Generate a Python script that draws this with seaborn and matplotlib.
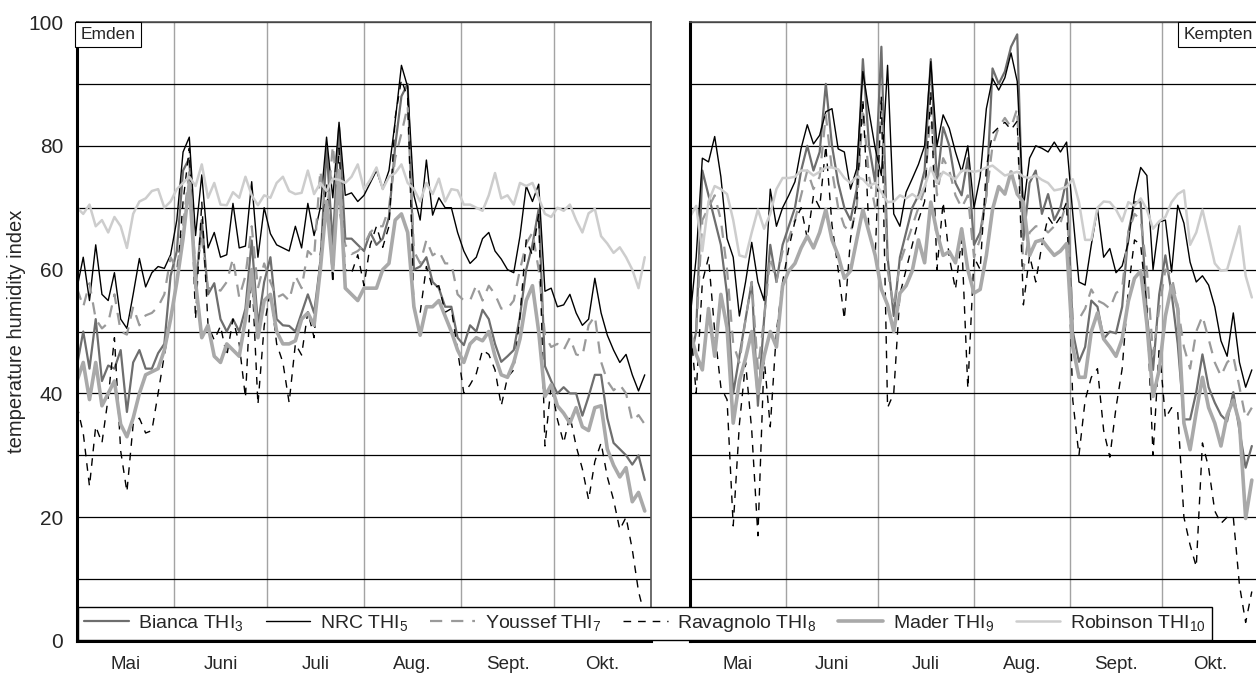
import numpy as np
import pandas as pd
import matplotlib
matplotlib.use("Agg")
import matplotlib.pyplot as plt
from matplotlib.lines import Line2D
import seaborn as sns

sns.set_style("white")
plt.rcParams["font.family"] = ["Liberation Sans", "DejaVu Sans"]
plt.rcParams["mathtext.fontset"] = "custom"
plt.rcParams["mathtext.rm"] = "Liberation Sans"
plt.rcParams["mathtext.it"] = "Liberation Sans:italic"
plt.rcParams["mathtext.bf"] = "Liberation Sans:bold"
plt.rcParams["mathtext.default"] = "regular"

# ---------------- data (day of season, every second day from 1 May) ----------------
days = list(range(0, 184, 2))
month_starts = [0, 31, 61, 92, 123, 153, 184]
month_labels = ["Mai", "Juni", "Juli", "Aug.", "Sept.", "Okt."]
series_names = ["Bianca", "NRC", "Youssef", "Ravagnolo", "Mader", "Robinson"]
legend_labels = ["Bianca THI$_3$", "NRC THI$_5$", "Youssef THI$_7$",
                 "Ravagnolo THI$_8$", "Mader THI$_9$", "Robinson THI$_{10}$"]

emden_nrc = [57, 62, 55, 64, 56, 55, 59.5, 52, 50.5, 56,
             61.8, 57.2, 59.5, 60.5, 60.2, 62.4, 68, 79, 81.4, 65.5,
             75.3, 63.5, 66, 62, 62.4, 70.7, 63.5, 63.8, 74.2, 62,
             70, 65.8, 64, 63.5, 63, 67, 63.5, 70.7, 65.5, 70,
             81.4, 71.6, 83.8, 72, 72.4, 71, 72, 74, 76, 73,
             76, 84, 93, 89.5, 72, 68, 77.7, 68.8, 71.6, 70,
             70, 66, 63, 61, 62, 65, 66, 63, 61.7, 60,
             59.5, 65.4, 73.5, 71, 73.8, 56.5, 57, 54, 54.3, 56,
             53, 51, 52, 58.6, 53, 49.4, 47, 45, 46.3, 43,
             40.4, 43]
emden_bianca = [44.5, 50, 44, 52, 42, 44.5, 44, 47, 37, 45,
                47, 44, 44, 46.5, 48, 59, 63, 76, 78, 57,
                68, 56, 57.8, 52, 50, 52, 50, 53.7, 64.7, 51,
                58, 62, 52, 51, 50.9, 50, 53, 56, 53, 61,
                79.6, 64, 83, 65, 65, 64, 63, 66, 64, 65,
                68.5, 80, 88, 90, 60, 60.5, 62, 58, 57, 54,
                54, 49, 47.8, 51, 50, 53.5, 52, 48, 45.1, 46,
                47, 52.5, 60, 64, 69.8, 44.4, 42, 40, 41, 40,
                40, 36.4, 39.5, 43, 43, 36, 32, 31, 30, 28.5,
                30, 26]
emden_youssef = [57, 54, 57.8, 52, 50.5, 51.4, 56, 50, 49.5, 54,
                 51, 52.6, 53, 54, 56, 62, 60, 67, 76, 59.5,
                 65, 57, 57, 56.6, 58, 61.8, 55.5, 59, 67, 57,
                 61, 58, 55.5, 56, 55, 59, 57, 63, 62, 76,
                 68, 80, 70, 64, 62.5, 63, 64, 66, 67, 67,
                 70, 78, 82, 86.4, 63, 61, 64.8, 62.3, 63, 61,
                 61, 56, 55, 55, 57.5, 55, 57.4, 56, 53.7, 53.7,
                 55, 60, 64.2, 66, 60, 49.4, 47.5, 48, 47, 49,
                 46.3, 46, 51, 52.5, 45.1, 42, 40.5, 41.4, 40, 35.5,
                 36.5, 35]
emden_ravagnolo = [38, 33.6, 25, 34.7, 32, 39.3, 49, 30.7, 24.1, 35,
                   36, 33.6, 34, 40, 46.2, 52, 58, 71, 79.6, 52,
                   71, 51, 48.6, 50.9, 46, 52, 48, 39.3, 60, 38.2,
                   50.9, 56.6, 48, 45, 38.5, 48, 46.2, 53.2, 49, 62.4,
                   73.9, 57.8, 79.6, 60, 59.4, 62.4, 57.4, 64, 67, 63.6,
                   67, 84.6, 90.7, 87.7, 53.7, 53, 60.5, 57, 57.4, 53.1,
                   53.7, 47, 40, 41.4, 43.2, 47, 46.3, 43.8, 38, 42.6,
                   43.8, 52.5, 64.8, 62.3, 69, 31.5, 41.4, 35.8, 32, 36.4,
                   31.5, 27.8, 22.8, 29, 32, 26.5, 22.8, 18, 20, 14.8,
                   8, 4]
emden_mader = [42, 45, 39, 45, 38, 40, 42, 35, 33, 36,
               40, 43, 43.5, 44, 47, 52, 58, 65, 74, 58,
               49, 51, 46, 45, 48, 47, 46, 52, 60, 49,
               55, 56, 50, 48, 48, 48.5, 52, 53, 51, 60,
               71, 60, 76, 57, 56, 55, 57, 57, 57, 60,
               61, 68, 69, 66, 54, 49.4, 54, 54, 55, 52.5,
               50, 47, 45, 48, 49, 48.5, 50, 46, 43, 42.6,
               45, 48.8, 55, 57.4, 50, 39.5, 41.4, 38, 36.8, 35.2,
               37.7, 34.6, 34, 37.7, 38, 31, 28.4, 26.5, 28, 22.5,
               24, 21]
emden_robinson = [70, 69, 70.5, 67, 68, 66, 68.5, 67, 63.5, 69,
                  71, 71.5, 72.7, 73, 70, 71, 73, 74, 75, 73.5,
                  77, 71.6, 74, 70.5, 70.4, 72.5, 71.6, 75, 72, 70.4,
                  72, 71.6, 74, 75, 72.7, 72.2, 72.4, 76, 72.2, 74,
                  72.7, 74.7, 74.5, 74, 75, 77, 73, 74.5, 76.5, 73,
                  75, 75.6, 77, 74, 73, 71, 74, 72.2, 74.7, 71,
                  73, 72.8, 70.5, 70.5, 70, 69.5, 72, 75.6, 71.5, 72,
                  70.5, 74, 73.5, 74, 71.6, 69, 68.5, 70, 69.5, 70.5,
                  68, 66, 69.1, 69.8, 65.4, 64.2, 62.7, 63.6, 62, 60,
                  57, 62]

kempten_nrc = [52, 62, 78, 77.4, 81.5, 75, 65, 62, 52.5, 58,
               64.4, 58, 55, 73, 67, 70, 72, 74.2, 79.6, 83.4,
               80.3, 81.7, 85.5, 86, 79.5, 79, 73, 76.3, 92, 85.5,
               79.6, 75.2, 93, 69, 67, 72.5, 74.7, 77, 80, 93.6,
               80, 85, 82.8, 79, 75.8, 80, 70, 75, 86, 90.9,
               89, 91, 95, 90.4, 70, 78, 80, 79.6, 79, 80.6,
               79, 80.6, 69, 58, 57.5, 64, 69.8, 62, 63.4, 59.5,
               60.6, 64.4, 72, 76.5, 75.2, 60, 67.7, 68, 59.6, 70.4,
               67.5, 61.2, 58, 59, 57.5, 54, 48.5, 46, 53, 45,
               41, 43.8]
kempten_bianca = [45, 50, 76, 72, 68, 64, 56, 40, 46, 52,
                  58, 38, 52, 64, 58, 64, 67, 70, 76, 80,
                  76, 79, 90, 80, 74, 70, 68, 73, 94, 80,
                  74, 96, 62, 52.5, 62, 66, 70, 72, 76, 94,
                  74, 83, 80, 74, 72, 78, 64, 66, 72, 92.5,
                  90, 92, 96, 98, 64.8, 74, 76, 69, 72.2, 68,
                  70, 74.6, 50, 45.1, 47.5, 55, 54, 48.8, 50, 49.7,
                  54, 66, 70.9, 70.9, 52.5, 43.8, 56, 62.3, 56.2, 48,
                  35.8, 35.8, 40.2, 46.3, 41, 38.5, 36.5, 35.5, 40.2, 34,
                  28, 31.5]
kempten_youssef = [47, 50, 68, 70, 72, 68, 60, 48, 45, 52,
                   58, 44, 52, 62, 58, 63, 65, 68, 72, 76,
                   73, 75, 85, 76, 70, 67, 66, 70, 86, 75,
                   70, 88, 60, 54, 61, 64, 67, 70, 73, 86,
                   72, 78, 76, 72, 70, 72, 62, 65, 72, 80,
                   83, 84.5, 83, 86, 60, 66, 67, 67, 66, 67,
                   67.5, 70.9, 52, 52, 53.7, 56.8, 55, 54.5, 53.7, 56.2,
                   57, 66, 69, 68, 60, 46.3, 53.7, 60, 59, 54,
                   47.5, 44, 50, 52.5, 48.8, 45, 42.8, 45, 46, 41,
                   36, 37.7]
kempten_ravagnolo = [52, 40, 58, 62, 50, 41, 39, 18.6, 35, 45,
                     34, 17, 45.7, 34.6, 50, 58, 63.5, 67.8, 70, 65,
                     72, 70, 80, 67.2, 60, 52, 65, 70.9, 87.5, 66,
                     62.3, 88, 37.7, 40, 56, 60, 64, 68, 71, 88.8,
                     60, 70.9, 62, 56.8, 65, 40.8, 62, 60, 76.5, 82,
                     83, 83.8, 82.6, 84, 54.3, 62.3, 58, 64, 68.5, 67,
                     68.5, 70.9, 38.9, 30, 38.9, 42.6, 44, 34, 29.7, 37.7,
                     44, 56.8, 64.8, 64, 53.7, 30, 47.5, 36, 37.7, 37,
                     20, 15.5, 12, 32, 28, 21, 19, 20, 20, 9,
                     3, 8]
kempten_mader = [50, 46.3, 43.8, 53.7, 46, 56, 50.6, 35.2, 42, 45.7,
                 50, 40, 46, 50, 47.5, 57.4, 59.8, 61, 63.5, 65.4,
                 63.5, 66, 69.7, 64.8, 62.3, 58.6, 59.8, 64.8, 69.7, 66,
                 62.3, 56.8, 54.3, 50, 56.2, 57.4, 59.8, 64.8, 61.1, 70.9,
                 66, 62.3, 62.9, 61.1, 66.6, 60, 56.2, 56.8, 62.3, 69.7,
                 73.4, 72.2, 75.8, 72.2, 70.9, 62.3, 64.5, 64.8, 63.5, 62.3,
                 63, 64.2, 47.5, 42.6, 42.6, 50, 53, 48.8, 47.5, 46,
                 48.8, 54.9, 58.6, 59.8, 51.2, 39.5, 43.8, 52.5, 57.4, 53.7,
                 35.2, 30.9, 37, 42.6, 37.7, 35.2, 31.5, 36.5, 38.9, 35.2,
                 19.8, 26]
kempten_robinson = [68.5, 70.3, 63, 71, 73.5, 73, 72.2, 68, 62.3, 62,
                    66, 69.7, 66.6, 69, 73, 74.8, 74.8, 75, 76, 76,
                    75.2, 75.8, 76.5, 76.5, 76.2, 74.8, 74, 75, 74.6, 73.5,
                    74, 72.5, 70.9, 71, 72, 71.5, 72.2, 71.5, 73.4, 76.5,
                    74, 75.8, 75.2, 74.6, 76, 76, 75.8, 76, 76.5, 76.8,
                    76, 75.2, 75.5, 75.8, 75, 74.8, 75.2, 74.5, 74, 72.8,
                    73, 73.4, 74.6, 70.9, 64.8, 64.8, 70, 71, 70.9, 69.7,
                    67.8, 70.9, 70.3, 71.5, 69.7, 66.6, 67.8, 68.5, 70.9, 72.2,
                    72.8, 64, 66, 69.7, 65.4, 61, 59.8, 60, 63.5, 67,
                    59, 55.5]

# ---------------- styles ----------------
colors = {"Bianca": "#6e6e6e", "NRC": "#000000", "Youssef": "#9a9a9a",
          "Ravagnolo": "#000000", "Mader": "#a9a9a9", "Robinson": "#cdcdcd"}
widths = {"Bianca": 1.6, "NRC": 1.0, "Youssef": 1.6,
          "Ravagnolo": 1.0, "Mader": 2.6, "Robinson": 1.8}
dashes = {"Bianca": "", "NRC": "", "Youssef": (5.5, 4),
          "Ravagnolo": (5.5, 5), "Mader": "", "Robinson": ""}


def long_frame(values):
    frames = []
    for name, vals in zip(series_names, values):
        frames.append(pd.DataFrame({"day": days, "thi": vals, "series": name}))
    return pd.concat(frames, ignore_index=True)


emden_df = long_frame([emden_bianca, emden_nrc, emden_youssef,
                       emden_ravagnolo, emden_mader, emden_robinson])
kempten_df = long_frame([kempten_bianca, kempten_nrc, kempten_youssef,
                         kempten_ravagnolo, kempten_mader, kempten_robinson])

W, H = 1256, 675
fig = plt.figure(figsize=(W / 100, H / 100), dpi=100)
ax1 = fig.add_axes([77 / W, 34 / H, 574 / W, 619 / H])
ax2 = fig.add_axes([690 / W, 34 / H, 568 / W, 619 / H])

for ax, df in ((ax1, emden_df), (ax2, kempten_df)):
    sns.lineplot(data=df, x="day", y="thi", hue="series", style="series", size="series",
                 hue_order=series_names, style_order=series_names, size_order=series_names,
                 palette=colors, dashes=dashes, sizes=widths, estimator=None,
                 legend=False, ax=ax)
    ax.set_xlim(0, 184)
    ax.set_ylim(0, 100)
    ax.set_xlabel("")
    ax.set_ylabel("")
    ax.set_axisbelow(True)
    ax.set_yticks(range(0, 101, 10))
    ax.set_xticks(month_starts)
    ax.set_xticks([(a + b) / 2 for a, b in zip(month_starts[:-1], month_starts[1:])], minor=True)
    ax.set_xticklabels([""] * len(month_starts))
    ax.set_xticklabels(month_labels, minor=True, fontsize=13.5)
    ax.tick_params(axis="x", which="major", length=6, width=1.5, direction="out", color="black")
    ax.tick_params(axis="x", which="minor", length=0, pad=11)
    ax.tick_params(axis="y", which="major", length=7, width=1.5, direction="out",
                   color="black", labelsize=15, pad=3)
    ax.grid(axis="y", which="major", color="black", lw=0.9)
    ax.grid(axis="x", which="major", color="#a3a3a3", lw=1.0)
    for s in ("left", "bottom"):
        ax.spines[s].set_color("black")
        ax.spines[s].set_linewidth(2.2)
    for s in ("top", "right"):
        ax.spines[s].set_color("#555555")
        ax.spines[s].set_linewidth(1.2)

ax1.set_yticklabels([str(v) if v % 20 == 0 else "" for v in range(0, 101, 10)])
ax2.set_yticklabels([""] * 11)
ax1.set_ylabel("temperature humidity index", fontsize=14.5)
ax1.yaxis.set_label_coords(-0.088, 0.5)

box = dict(boxstyle="square,pad=0.3", fc="white", ec="black", lw=0.8)
ax1.text(0.006, 0.992, "Emden", transform=ax1.transAxes, ha="left", va="top",
         fontsize=12.5, bbox=box, zorder=10)
ax2.text(0.991, 0.992, "Kempten", transform=ax2.transAxes, ha="right", va="top",
         fontsize=12.5, bbox=box, zorder=10)

handles = [Line2D([], [], color=colors[n], lw=widths[n],
                  dashes=(dashes[n] if dashes[n] else (None, None))) for n in series_names]
leg = fig.legend(handles, legend_labels, ncol=6, loc="lower left",
                 bbox_to_anchor=(78 / W, 35 / H, (1212 - 78) / W, 38 / H), mode="expand",
                 frameon=True, fancybox=False, edgecolor="black", framealpha=1,
                 fontsize=14, handlelength=2.3, handletextpad=0.5, columnspacing=0.6,
                 borderaxespad=0, borderpad=0.3)
leg.get_frame().set_linewidth(1.0)

fig.savefig("out.png", dpi=100)
